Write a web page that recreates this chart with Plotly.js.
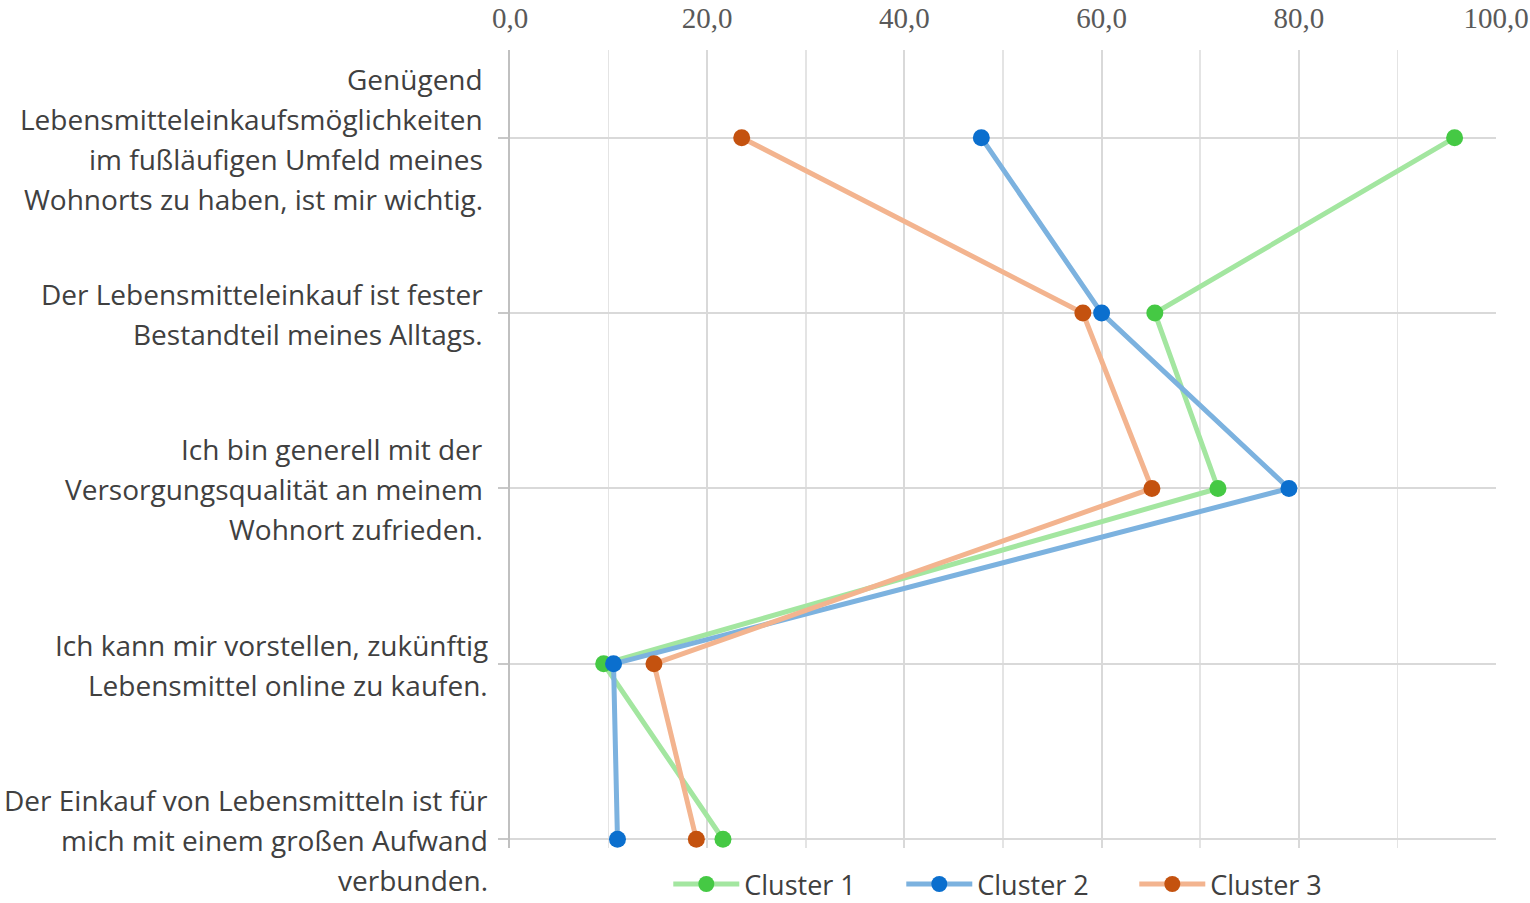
<!DOCTYPE html>
<html>
<head>
<meta charset="utf-8">
<script src="https://cdn.plot.ly/plotly-3.0.1.min.js"></script>
<style>
  body { margin: 0; background: #fff; }
  #chart { width: 1530px; height: 903px; }
</style>
</head>
<body>
<div id="chart"></div>
<script>
// statements (one per row, top to bottom), lines as in the original
const statements = [
  ['Genügend', 'Lebensmitteleinkaufsmöglichkeiten', 'im fußläufigen Umfeld meines', 'Wohnorts zu haben, ist mir wichtig.'],
  ['Der Lebensmitteleinkauf ist fester', 'Bestandteil meines Alltags.'],
  ['Ich bin generell mit der', 'Versorgungsqualität an meinem', 'Wohnort zufrieden.'],
  ['Ich kann mir vorstellen, zukünftig', 'Lebensmittel online zu kaufen.'],
  ['Der Einkauf von Lebensmitteln ist für', 'mich mit einem großen Aufwand', 'verbunden.']
];
const rows = [0, 1, 2, 3, 4];

const seriesNames = ['Cluster 1', 'Cluster 2', 'Cluster 3'];
const cluster1 = [95.8, 65.4, 71.8, 9.5, 21.6];
const cluster2 = [47.8, 60.0, 79.0, 10.5, 10.9];
const cluster3 = [23.5, 58.1, 65.1, 14.6, 18.9];

const lineColors = ['#a3e6a0', '#7cb2df', '#f3b48f'];
const markerColors = ['#45c944', '#0b6fce', '#c4520f'];

const labelFont = '"Open Sans", "Noto Sans", sans-serif';

let dataHolder = [];
[cluster1, cluster2, cluster3].forEach((vals, i) => {
  dataHolder.push({
    x: vals,
    y: rows,
    name: seriesNames[i],
    type: 'scatter',
    mode: 'lines+markers',
    line: { color: lineColors[i], width: 5 },
    marker: { color: markerColors[i], size: 17 },
    hoverinfo: 'none'
  });
});

// row labels as annotations so the line spacing can follow the original
const lineGap = 40;
let annotations = [];
statements.forEach((lines, r) => {
  const mid = (lines.length - 1) / 2;
  lines.forEach((txt, k) => {
    annotations.push({
      text: txt,
      xref: 'paper', yref: 'y',
      x: 0, y: rows[r],
      xanchor: 'right', yanchor: 'middle',
      xshift: r >= 3 ? -20 : -25,
      yshift: (mid - k) * lineGap - 1,
      showarrow: false,
      font: { family: labelFont, size: 28, color: '#404040' }
    });
  });
});

let layout = {
  width: 1530,
  height: 903,
  margin: { l: 510, r: 34, t: 50, b: 55, autoexpand: false },
  paper_bgcolor: '#ffffff',
  plot_bgcolor: '#ffffff',
  separators: ',.',
  showlegend: true,
  legend: {
    orientation: 'h',
    x: 0.515, xanchor: 'center',
    y: -0.015, yanchor: 'top',
    font: { family: labelFont, size: 27, color: '#404040' },
    itemwidth: 66,
    entrywidth: 152,
    traceorder: 'normal'
  },
  xaxis: {
    side: 'top',
    range: [0, 100],
    tick0: 0,
    dtick: 20,
    tickformat: '.1f',
    ticks: '',
    ticklabelstandoff: 15,
    showgrid: true,
    gridcolor: '#d9d9d9',
    gridwidth: 2,
    minor: { dtick: 10, showgrid: true, gridcolor: '#e4e4e4', gridwidth: 1.5 },
    zeroline: false,
    showline: false,
    tickfont: { family: '"Liberation Serif", serif', size: 29, color: '#595959' },
    fixedrange: true
  },
  yaxis: {
    range: [4.05, -0.5],
    tickvals: rows,
    showticklabels: false,
    ticks: 'outside',
    ticklen: 10,
    tickwidth: 2,
    tickcolor: '#c8c8c8',
    showgrid: true,
    gridcolor: '#d9d9d9',
    gridwidth: 2,
    zeroline: false,
    showline: true,
    linecolor: '#c0c0c0',
    linewidth: 2,
    fixedrange: true
  },
  annotations: annotations
};

Plotly.newPlot('chart', dataHolder, layout, { displayModeBar: false, staticPlot: true });
</script>
</body>
</html>
